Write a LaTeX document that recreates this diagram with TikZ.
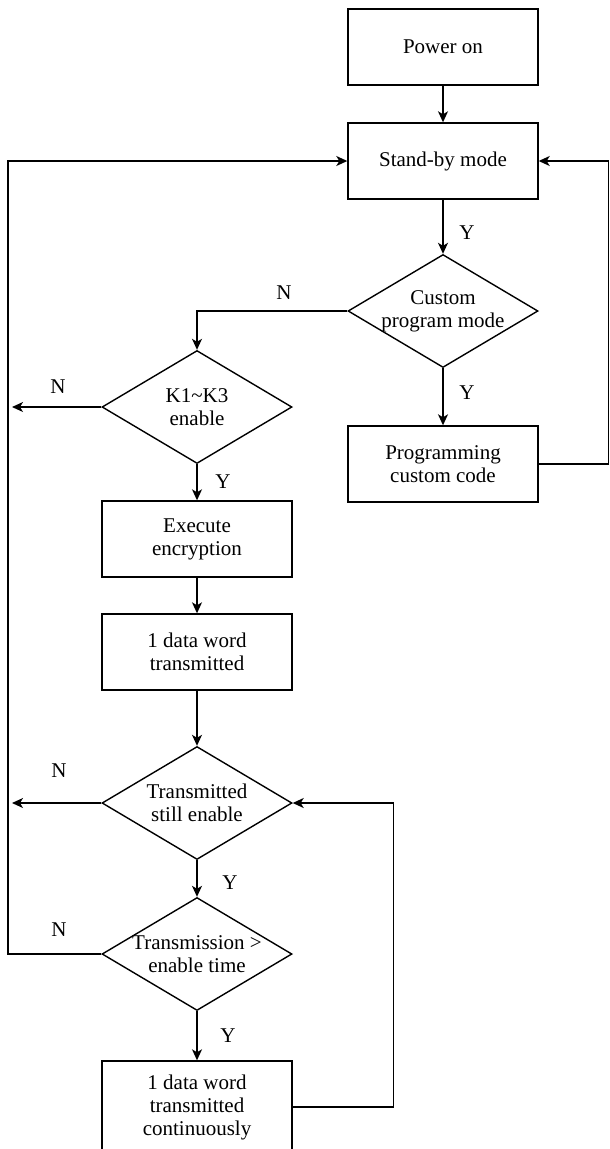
\documentclass[tikz,border=0pt]{standalone}
\usepackage{fontspec}
\setmainfont{Liberation Serif}
\usepackage{tikz}
\usetikzlibrary{positioning, arrows.meta, shapes.geometric, calc}

\tikzset{
  box/.style={draw, line width=1.4pt, minimum width=190pt, minimum height=76pt,
              inner sep=0pt, align=center},
  dia/.style={draw, diamond, line width=1.4pt, minimum width=190pt,
              minimum height=113pt, inner sep=0pt},
  arr/.style={-{Stealth[length=11pt, width=10pt, inset=3pt]}, line width=1.4pt},
  yn/.style={inner sep=0pt},
  every label/.style={align=center, inner sep=0pt}
}

\begin{document}
\begin{tikzpicture}[x=1pt, y=-1pt, font=\fontsize{21pt}{23pt}\selectfont]
  \useasboundingbox (0,0) rectangle (610,1149);

  % right column
  \node[box] (power) at (443,47) {Power on};
  \node[box] (standby) at (443,161) {Stand-by mode};
  \node[dia, label={center:Custom\\program mode}] (custom) at (443,311) {};
  \node[box] (prog) at (443,464) {Programming\\custom code};

  % left column
  \node[dia, label={center:K1\textasciitilde K3\\enable}] (kdia) at (197,407) {};
  \node[box] (exec) at (197,539) {Execute\\encryption};
  \node[box] (data1) at (197,652) {1 data word\\transmitted};
  \node[dia, label={center:Transmitted\\still enable}] (tsdia) at (197,803) {};
  \node[dia, label={center:Transmission >\\enable time}] (tmdia) at (197,954) {};
  \node[box, minimum height=92pt] (cont) at (197,1107)
        {1 data word\\transmitted\\continuously};

  % loose ends on the left
  \coordinate (kout) at (12,407);
  \coordinate (tsout) at (12,803);

  % Y / N marks
  \node[yn] (y1) at (467,233) {Y};
  \node[yn] (n1) at (284,293) {N};
  \node[yn] (y2) at (467,393) {Y};
  \node[yn] (n2) at (58,387) {N};
  \node[yn] (y3) at (223,482) {Y};
  \node[yn] (n3) at (59,771) {N};
  \node[yn] (y4) at (230,883) {Y};
  \node[yn] (n4) at (59,930) {N};
  \node[yn] (y5) at (228,1036) {Y};

  % connectors
  \draw[arr] (power) -- (standby);
  \draw[arr] (standby) -- (custom);
  \draw[arr] (custom.west) -| (kdia.north);
  \draw[arr] (custom) -- (prog);
  \draw[arr] (prog.east) -- ++(70,0) |- (standby.east);
  \draw[arr] (kdia.west) -- (kout);
  \draw[arr] (kdia) -- (exec);
  \draw[arr] (exec) -- (data1);
  \draw[arr] (data1) -- (tsdia);
  \draw[arr] (tsdia.west) -- (tsout);
  \draw[arr] (tsdia) -- (tmdia);
  \draw[arr] (tmdia.west) -- (8,954) |- (standby.west);
  \draw[arr] (tmdia) -- (cont);
  \draw[arr] (cont.east) -- ++(101,0) |- (tsdia.east);
\end{tikzpicture}
\end{document}
